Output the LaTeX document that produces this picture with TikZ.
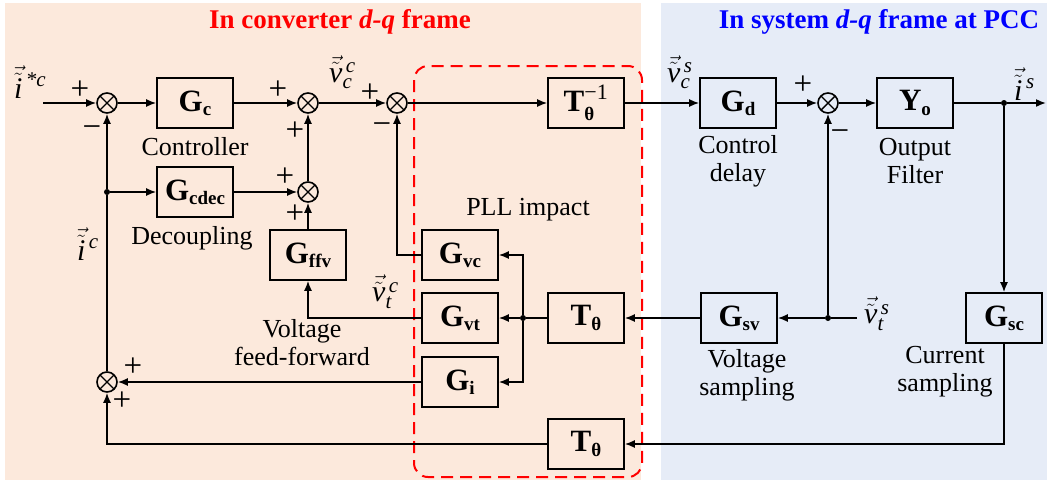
\documentclass[tikz,border=0pt]{standalone}
\usepackage{amsmath}
\usepackage{fontspec}
\setmainfont{Liberation Serif}
\usetikzlibrary{arrows.meta,calc}
\definecolor{peach}{HTML}{FCE9DC}
\definecolor{paleblue}{HTML}{E6ECF7}
\newcommand{\sv}[1]{\vec{\tilde{\textit{#1}}}}
\newcommand{\bsub}[2]{#1\raisebox{-0.3ex}{\fontsize{19}{19}\selectfont\bfseries #2}}
\tikzset{
  blk/.style={draw, line width=1.6pt, minimum width=76pt, minimum height=50pt, inner sep=0pt,
    font=\fontsize{31}{32}\selectfont\bfseries},
  sumnode/.style={draw, circle, line width=1.6pt, minimum size=20pt, inner sep=0pt,
    path picture={\draw[line width=1.4pt] ([shift={(45:10pt)}]path picture bounding box.center) -- ([shift={(225:10pt)}]path picture bounding box.center);
                  \draw[line width=1.4pt] ([shift={(135:10pt)}]path picture bounding box.center) -- ([shift={(315:10pt)}]path picture bounding box.center);}},
  sig/.style={line width=1.6pt, -{Latex[length=10pt,width=8pt]}},
  wire/.style={line width=1.6pt},
  lbl/.style={font=\fontsize{26}{28}\selectfont, align=center, inner sep=0pt},
  mlbl/.style={font=\fontsize{30}{32}\selectfont, inner sep=0pt},
  sgn/.style={font=\fontsize{33}{33}\selectfont, inner sep=0pt},
  dotn/.style={circle, fill, inner sep=0pt, minimum size=6pt},
}
\begin{document}
\begin{tikzpicture}[x=1pt,y=-1pt]
\useasboundingbox (0,0) rectangle (1047,480);
\fill[white] (0,0) rectangle (1047,480);
\fill[peach] (5,3) rectangle (641,480);
\fill[paleblue] (661,3) rectangle (1047,480);
\draw[red, line width=2pt, dash pattern=on 12pt off 7pt, rounded corners=14pt] (414,66) rectangle (642,477);

\node[font=\fontsize{27}{30}\selectfont\bfseries, text=red] (t1) at (340,22) {In converter \textit{d-q} frame};
\node[font=\fontsize{27}{30}\selectfont\bfseries, text=blue] (t2) at (879,22) {In system \textit{d-q} frame at PCC};

% nodes
\coordinate (in) at (43,103);
\node[sumnode] (s1) at (107,103) {};
\node[blk] (Gc) at (195,103) {\bsub{G}{c}};
\node[sumnode] (s2) at (308,103) {};
\node[sumnode] (s3) at (308,192) {};
\node[blk] (Gcdec) at (195,192) {\bsub{G}{cdec}};
\node[blk] (Gffv) at (308,255) {\bsub{G}{ffv}};
\node[sumnode] (s5) at (397,103) {};
\node[blk] (Tinv) at (586,103) {T$^{\raisebox{0.2ex}{\fontsize{22}{22}\selectfont\mdseries\textminus1}}_{\raisebox{-0.2ex}{\fontsize{19}{19}\selectfont\bfseries θ}}$};
\node[blk] (Gd) at (738,103) {\bsub{G}{d}};
\node[sumnode] (s6) at (828,103) {};
\node[blk] (Yo) at (915,103) {\bsub{Y}{o}};
\node[dotn] (dout) at (1004,103) {};
\coordinate (out) at (1046,103);
\node[blk] (Gsc) at (1004,318) {\bsub{G}{sc}};
\node[blk] (Gsv) at (739,318) {\bsub{G}{sv}};
\node[dotn] (dvt) at (828,318) {};
\coordinate (vts) at (857,318);
\node[blk] (T1) at (586,318) {\bsub{T}{θ}};
\node[blk] (T2) at (586,444) {\bsub{T}{θ}};
\node[blk] (Gvc) at (460,255) {\bsub{G}{vc}};
\node[blk] (Gvt) at (460,318) {\bsub{G}{vt}};
\node[blk] (Gi) at (460,382) {\bsub{G}{i}};
\node[dotn] (dbr) at (523,318) {};
\node[sumnode] (s4) at (107,382) {};
\node[dotn] (dfb) at (107,192) {};

% connectors
\draw[sig] (in) -- (s1);
\draw[sig] (s1) -- (Gc);
\draw[sig] (Gc) -- (s2);
\draw[sig] (s2) -- (s5);
\draw[sig] (s5) -- (Tinv);
\draw[sig] (Tinv) -- (Gd);
\draw[sig] (Gd) -- (s6);
\draw[sig] (s6) -- (Yo);
\draw[wire] (Yo) -- (dout);
\draw[sig] (dout) -- (out);
\draw[sig] (dout) -- (Gsc);
\draw[sig] (Gsc.south) |- (T2.east);
\draw[sig] (T2.west) -| (s4.south);
\draw[sig] (Gi.west) -- (s4.east);
\draw[wire] (s4.north) -- (dfb);
\draw[sig] (dfb) -- (s1.south);
\draw[sig] (dfb) -- (Gcdec);
\draw[sig] (Gcdec) -- (s3);
\draw[sig] (s3) -- (s2);
\draw[sig] (Gffv) -- (s3);
\draw[sig] (Gvt.west) -| (Gffv.south);
\draw[sig] (Gvc.west) -| (s5.south);
\draw[wire] (T1.west) -- (dbr);
\draw[sig] (dbr) -- (Gvt.east);
\draw[sig] (dbr) |- (Gvc.east);
\draw[sig] (dbr) |- (Gi.east);
\draw[sig] (Gsv.west) -- (T1.east);
\draw[wire] (vts) -- (dvt);
\draw[sig] (dvt) -- (Gsv.east);
\draw[sig] (dvt) -- (s6.south);

% labels
\node[lbl] (lc) at (195,147) {Controller};
\node[lbl] (ld) at (192,238) {Decoupling};
\node[lbl] (lf) at (302,343) {Voltage\\feed-forward};
\node[lbl] (lp) at (528,210) {PLL impact};
\node[lbl] (lcd) at (738,161) {Control\\delay};
\node[lbl] (lof) at (915,161) {Output\\Filter};
\node[lbl] (lvs) at (747,375) {Voltage\\sampling};
\node[lbl] (lcs) at (945,372) {Current\\sampling};

\node[mlbl, anchor=west] (mi) at (14,82) {$\sv{i}^{\,\textit{*c}}$};
\node[mlbl, anchor=west] (mvc) at (329,72) {$\sv{v}^{\,\textit{c}}_{\textit{c}}$};
\node[mlbl, anchor=west] (mvs) at (667,72) {$\sv{v}^{\,\textit{s}}_{\textit{c}}$};
\node[mlbl, anchor=west] (mis) at (1014,84) {$\sv{i}^{\,\textit{s}}$};
\node[mlbl, anchor=west] (mvts) at (864,314) {$\sv{v}^{\,\textit{s}}_{\textit{t}}$};
\node[mlbl, anchor=west] (mvtc) at (372,292) {$\sv{v}^{\,\textit{c}}_{\textit{t}}$};
\node[mlbl, anchor=west] (mic) at (77,244) {$\sv{i}^{\,\textit{c}}$};

% signs
\node[sgn] (p1) at (80,90) {+};
\node[sgn] (m1) at (92,132) {\textminus};
\node[sgn] (p2) at (278,90) {+};
\node[sgn] (p3) at (295,131) {+};
\node[sgn] (p4) at (285,177) {+};
\node[sgn] (p5) at (295,214) {+};
\node[sgn] (p6) at (370,93) {+};
\node[sgn] (m2) at (382,129) {\textminus};
\node[sgn] (p7) at (803,85) {+};
\node[sgn] (m3) at (840,136) {\textminus};
\node[sgn] (p8) at (133,367) {+};
\node[sgn] (p9) at (122,401) {+};
\end{tikzpicture}
\end{document}
